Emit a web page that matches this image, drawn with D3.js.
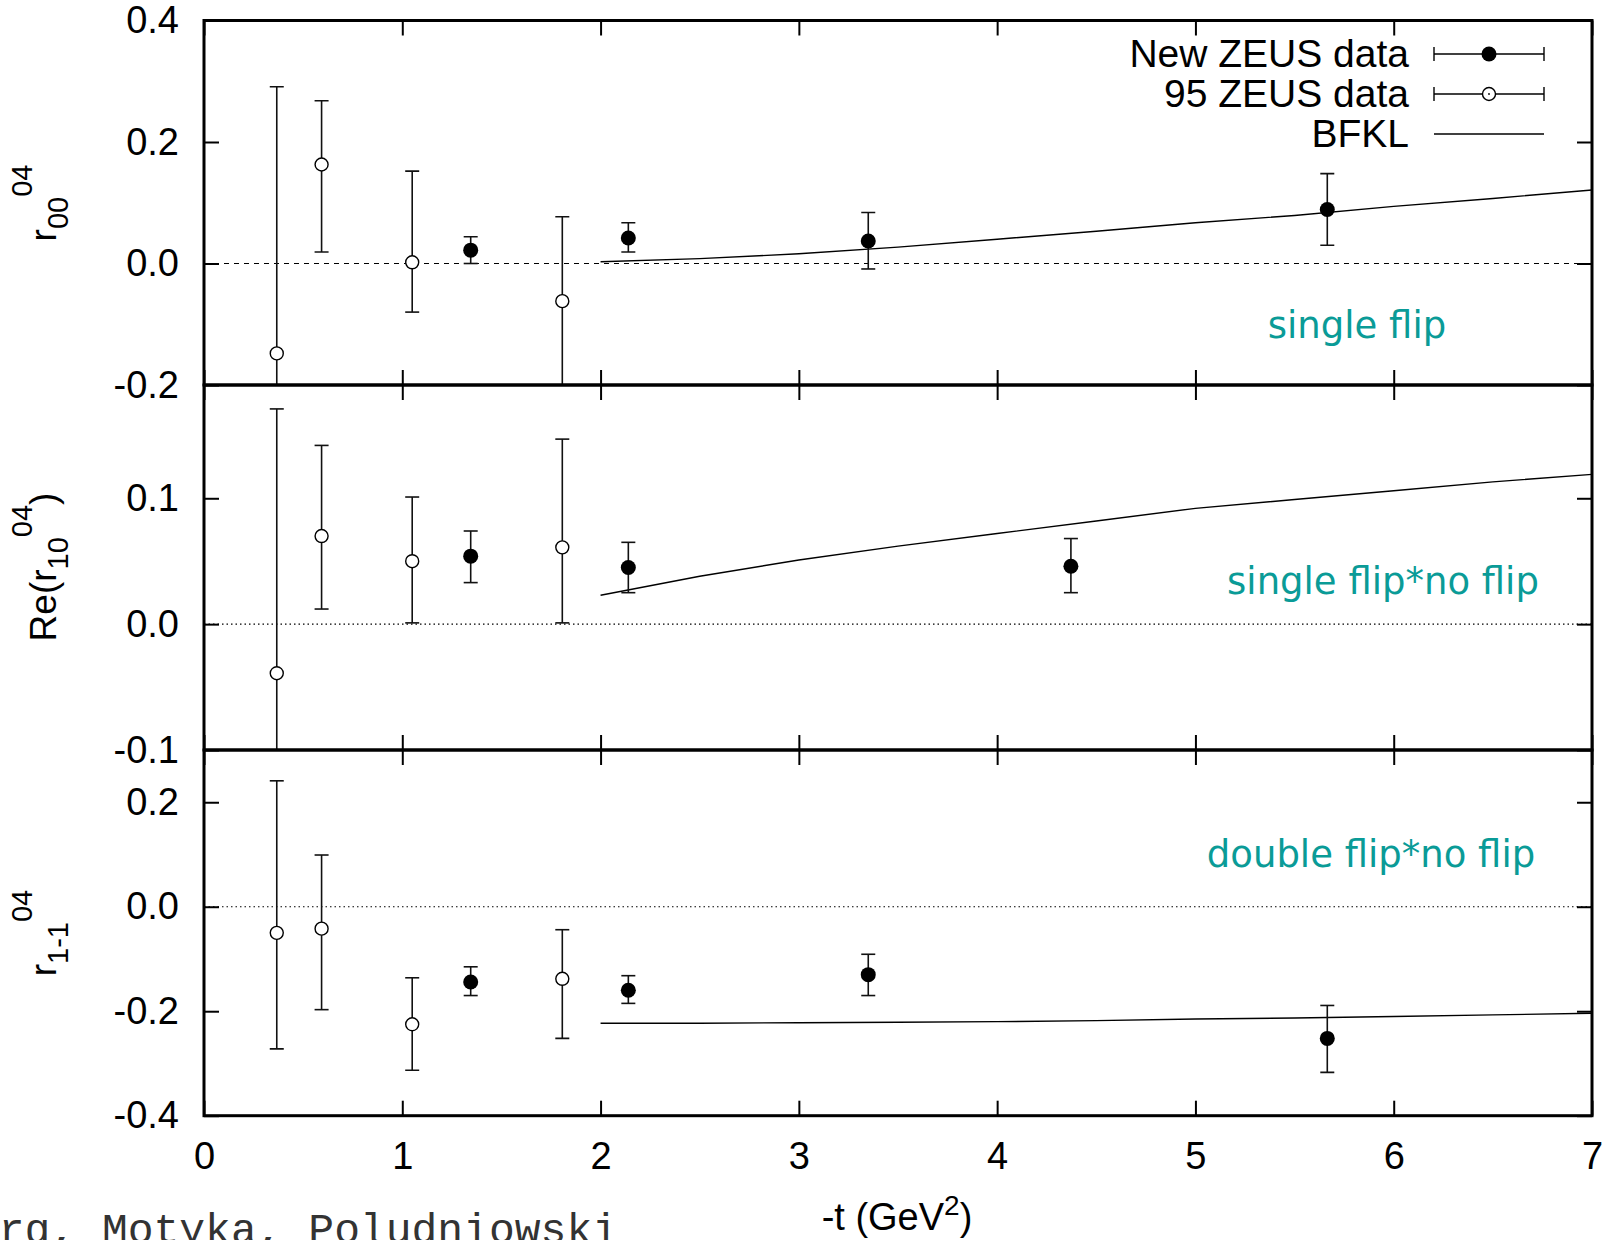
<!DOCTYPE html>
<html>
<head>
<meta charset="utf-8">
<script src="https://cdn.jsdelivr.net/npm/d3@7"></script>
<style>
  body { margin: 0; background: #fff; }
  svg { display: block; }
  text { font-family: "Liberation Sans", Arial, sans-serif; }
</style>
</head>
<body>
<svg id="chart" width="1607" height="1240"></svg>
<script>
// ---- data ----
var xTicks = [0, 1, 2, 3, 4, 5, 6, 7];

// 95 ZEUS data (open circles), same -t for all three panels
var oldT = [0.367, 0.593, 1.05, 1.807];

// r00^04
var r00Ticks = [-0.2, 0, 0.2, 0.4];
var r00OldV  = [-0.148, 0.163, 0.002, -0.062];
var r00OldLo = [-0.587, 0.019, -0.080, -0.201];
var r00OldHi = [0.291, 0.268, 0.152, 0.077];
var r00NewT  = [1.345, 2.14, 3.35, 5.665];
var r00NewV  = [0.022, 0.042, 0.037, 0.089];
var r00NewLo = [0.000, 0.019, -0.009, 0.030];
var r00NewHi = [0.044, 0.067, 0.084, 0.148];

// Re(r10^04)
var r10Ticks = [-0.1, 0, 0.1];
var r10OldV  = [-0.039, 0.070, 0.050, 0.061];
var r10OldLo = [-0.249, 0.012, 0.001, 0.001];
var r10OldHi = [0.171, 0.142, 0.101, 0.147];
var r10NewT  = [1.345, 2.14, 4.372];
var r10NewV  = [0.054, 0.045, 0.046];
var r10NewLo = [0.033, 0.025, 0.025];
var r10NewHi = [0.074, 0.065, 0.068];

// r1-1^04
var r11Ticks = [-0.4, -0.2, 0, 0.2];
var r11OldV  = [-0.050, -0.042, -0.225, -0.138];
var r11OldLo = [-0.272, -0.197, -0.313, -0.252];
var r11OldHi = [0.241, 0.099, -0.136, -0.044];
var r11NewT  = [1.345, 2.14, 3.35, 5.665];
var r11NewV  = [-0.144, -0.160, -0.130, -0.252];
var r11NewLo = [-0.170, -0.185, -0.170, -0.317];
var r11NewHi = [-0.115, -0.132, -0.091, -0.189];

// BFKL curves
var bfklT   = [2, 2.5, 3, 3.5, 4, 4.5, 5, 5.5, 6, 6.5, 7];
var bfklR00 = [0.003, 0.008, 0.016, 0.027, 0.040, 0.053, 0.067, 0.079, 0.094, 0.107, 0.121];
var bfklR10 = [0.023, 0.038, 0.051, 0.062, 0.072, 0.082, 0.092, 0.099, 0.106, 0.113, 0.119];
var bfklR11 = [-0.223, -0.223, -0.222, -0.221, -0.220, -0.218, -0.215, -0.213, -0.210, -0.207, -0.204];

var legendLabels = ["New ZEUS data", "95 ZEUS data", "BFKL"];
var teal = "#0a9b97";

// ---- layout ----
var left = 204, right = 1592;
var svg = d3.select("#chart");

var x = d3.scaleLinear().domain([0, 7]).range([left, right]);

function fmt(v) { return v.toFixed(1); }

var panels = [
  {top: 20.5, bottom: 385, domain: [-0.2, 0.4], ticks: r00Ticks,
   oldV: r00OldV, oldLo: r00OldLo, oldHi: r00OldHi,
   newT: r00NewT, newV: r00NewV, newLo: r00NewLo, newHi: r00NewHi,
   bfkl: bfklR00, zeroDash: "5,5",
   note: "single flip", noteX: 1357, noteY: 338},
  {top: 385, bottom: 750, domain: [-0.1, 0.19], ticks: r10Ticks,
   oldV: r10OldV, oldLo: r10OldLo, oldHi: r10OldHi,
   newT: r10NewT, newV: r10NewV, newLo: r10NewLo, newHi: r10NewHi,
   bfkl: bfklR10, zeroDash: "1.5,3",
   note: "single flip*no flip", noteX: 1383, noteY: 594},
  {top: 750, bottom: 1115.7, domain: [-0.4, 0.3], ticks: r11Ticks,
   oldV: r11OldV, oldLo: r11OldLo, oldHi: r11OldHi,
   newT: r11NewT, newV: r11NewV, newLo: r11NewLo, newHi: r11NewHi,
   bfkl: bfklR11, zeroDash: "1.5,3",
   note: "double flip*no flip", noteX: 1371, noteY: 867}
];

panels.forEach(function(p, i) {
  var y = d3.scaleLinear().domain(p.domain).range([p.bottom, p.top]);
  var g = svg.append("g");

  g.append("clipPath").attr("id", "clip" + i)
    .append("rect")
    .attr("x", left).attr("y", p.top)
    .attr("width", right - left).attr("height", p.bottom - p.top);

  var plot = g.append("g").attr("clip-path", "url(#clip" + i + ")");

  // zero line
  plot.append("line")
    .attr("x1", left).attr("x2", right)
    .attr("y1", y(0)).attr("y2", y(0))
    .attr("stroke", "#000").attr("stroke-width", 1.2)
    .attr("stroke-dasharray", p.zeroDash);

  // BFKL
  var line = d3.line()
    .x(function(d, k) { return x(bfklT[k]); })
    .y(function(d) { return y(d); });
  plot.append("path")
    .datum(p.bfkl)
    .attr("d", line)
    .attr("fill", "none")
    .attr("stroke", "#000")
    .attr("stroke-width", 1.4);

  function errorBars(ts, vs, lo, hi, filled) {
    var pts = ts.map(function(t, k) { return {t: t, v: vs[k], lo: lo[k], hi: hi[k]}; });
    var eb = plot.selectAll(null).data(pts).enter().append("g")
      .attr("stroke", "#111").attr("stroke-width", 1.6);
    eb.append("line")
      .attr("x1", function(d) { return x(d.t); })
      .attr("x2", function(d) { return x(d.t); })
      .attr("y1", function(d) { return y(d.lo); })
      .attr("y2", function(d) { return y(d.hi); });
    eb.append("line")
      .attr("x1", function(d) { return x(d.t) - 7; })
      .attr("x2", function(d) { return x(d.t) + 7; })
      .attr("y1", function(d) { return y(d.lo); })
      .attr("y2", function(d) { return y(d.lo); });
    eb.append("line")
      .attr("x1", function(d) { return x(d.t) - 7; })
      .attr("x2", function(d) { return x(d.t) + 7; })
      .attr("y1", function(d) { return y(d.hi); })
      .attr("y2", function(d) { return y(d.hi); });
    eb.append("circle")
      .attr("cx", function(d) { return x(d.t); })
      .attr("cy", function(d) { return y(d.v); })
      .attr("r", filled ? 7.5 : 6.5)
      .attr("fill", filled ? "#000" : "#fff")
      .attr("stroke", "#000")
      .attr("stroke-width", filled ? 0 : 1.4);
  }
  errorBars(oldT, p.oldV, p.oldLo, p.oldHi, false);
  errorBars(p.newT, p.newV, p.newLo, p.newHi, true);

  // axes (inward ticks on every side)
  var yl = g.append("g").attr("transform", "translate(" + left + ",0)")
    .call(d3.axisLeft(y).tickValues(p.ticks).tickSize(-15).tickPadding(25).tickFormat(fmt));
  var yr = g.append("g").attr("transform", "translate(" + right + ",0)")
    .call(d3.axisRight(y).tickValues(p.ticks).tickSize(-15).tickFormat(""));
  var xt = g.append("g").attr("transform", "translate(0," + p.top + ")")
    .call(d3.axisTop(x).tickValues(xTicks).tickSize(-15).tickFormat(""));
  var xb = g.append("g").attr("transform", "translate(0," + p.bottom + ")")
    .call(d3.axisBottom(x).tickValues(xTicks).tickSize(-15).tickPadding(26)
      .tickFormat(i === 2 ? d3.format("d") : ""));

  [yl, yr, xt, xb].forEach(function(a) {
    a.select(".domain").remove();
    a.selectAll(".tick line").attr("stroke", "#000").attr("stroke-width", 2);
    a.selectAll(".tick text")
      .attr("fill", "#000")
      .style("font-family", "Liberation Sans, Arial, sans-serif")
      .style("font-size", "38px");
  });

  g.append("rect")
    .attr("x", left).attr("y", p.top)
    .attr("width", right - left).attr("height", p.bottom - p.top)
    .attr("fill", "none").attr("stroke", "#000").attr("stroke-width", 3);

  g.append("text")
    .attr("x", p.noteX).attr("y", p.noteY)
    .attr("text-anchor", "middle")
    .style("font-family", "DejaVu Sans, Verdana, sans-serif")
    .style("font-size", "37px")
    .attr("fill", teal)
    .text(p.note);
});

// y axis titles
function yTitle(cy, parts) {
  var t = svg.append("text")
    .attr("transform", "translate(56," + cy + ") rotate(-90)")
    .attr("text-anchor", "middle")
    .style("font-size", "37px");
  parts.forEach(function(pt) {
    t.append("tspan")
      .attr("dy", pt.dy)
      .style("font-size", pt.size + "px")
      .text(pt.s);
  });
}
yTitle(203, [{s: "r", dy: 0, size: 37}, {s: "00", dy: 12, size: 29}, {s: "04", dy: -36, size: 29}]);
yTitle(567, [{s: "Re(r", dy: 0, size: 37}, {s: "10", dy: 12, size: 29}, {s: "04", dy: -36, size: 29}, {s: ")", dy: 24, size: 37}]);
yTitle(933, [{s: "r", dy: 0, size: 37}, {s: "1-1", dy: 12, size: 29}, {s: "04", dy: -36, size: 29}]);

// x axis title
var xl = svg.append("text")
  .attr("x", 897).attr("y", 1230)
  .attr("text-anchor", "middle")
  .style("font-size", "38px");
xl.append("tspan").text("-t (GeV");
xl.append("tspan").attr("dy", -15).style("font-size", "28px").text("2");
xl.append("tspan").attr("dy", 15).text(")");

// legend
var legend = svg.append("g");
legendLabels.forEach(function(lab, k) {
  var cy = 54 + k * 40;
  legend.append("text")
    .attr("x", 1409).attr("y", cy + 13)
    .attr("text-anchor", "end")
    .style("font-size", "39px")
    .text(lab);
  legend.append("line")
    .attr("x1", 1434).attr("x2", 1544)
    .attr("y1", cy).attr("y2", cy)
    .attr("stroke", "#000").attr("stroke-width", 1.4);
  if (k < 2) {
    [1434, 1544].forEach(function(ex) {
      legend.append("line")
        .attr("x1", ex).attr("x2", ex)
        .attr("y1", cy - 7).attr("y2", cy + 7)
        .attr("stroke", "#000").attr("stroke-width", 1.4);
    });
    legend.append("circle")
      .attr("cx", 1489).attr("cy", cy)
      .attr("r", k === 0 ? 7.5 : 6.5)
      .attr("fill", k === 0 ? "#000" : "#fff")
      .attr("stroke", "#000").attr("stroke-width", k === 0 ? 0 : 1.4);
    if (k === 1) {
      legend.append("circle").attr("cx", 1489).attr("cy", cy).attr("r", 0.9).attr("fill", "#000");
    }
  }
});

// credit line, cut off at the page edge as in the original
svg.append("text")
  .attr("x", 618).attr("y", 1243)
  .attr("text-anchor", "end")
  .style("font-family", "Liberation Mono, Courier New, monospace")
  .style("font-size", "43px")
  .attr("fill", "#333")
  .text("Enberg, Motyka, Poludniowski");
</script>
</body>
</html>
